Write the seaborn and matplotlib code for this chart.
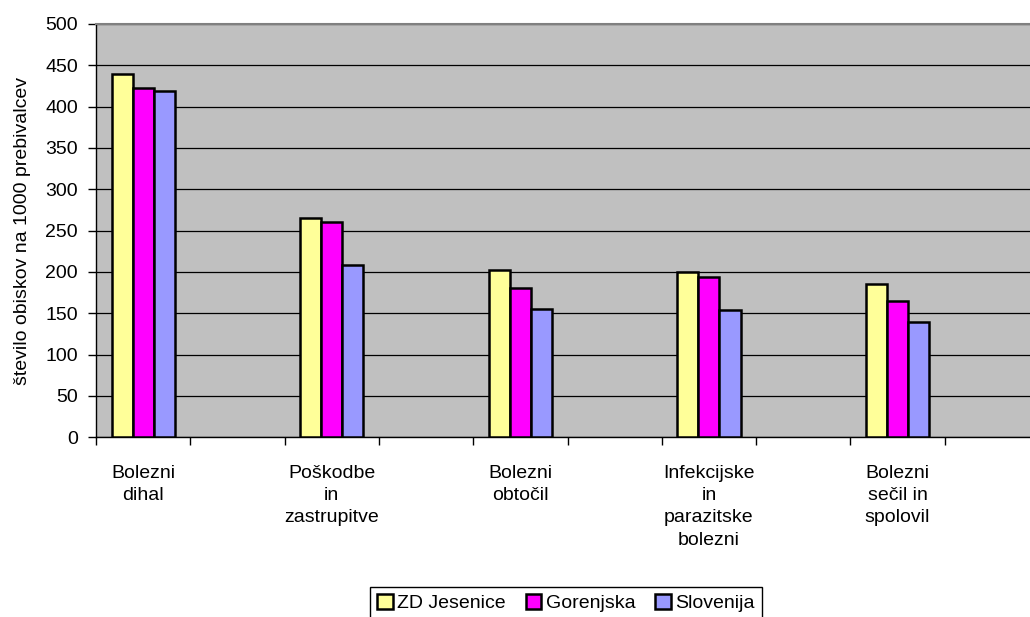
import matplotlib
matplotlib.use("Agg")
import matplotlib.pyplot as plt
import seaborn as sns
import pandas as pd

categories = ["Bolezni\ndihal", "Poškodbe\nin\nzastrupitve", "Bolezni\nobtočil",
              "Infekcijske\nin\nparazitske\nbolezni", "Bolezni\nsečil in\nspolovil"]
series = ["ZD Jesenice", "Gorenjska", "Slovenija"]
zd_jesenice = [439, 265, 203, 200, 186]
gorenjska = [423, 261, 181, 194, 165]
slovenija = [419, 209, 155, 154, 139]
colors = ["#FFFF99", "#FF00FF", "#9999FF"]
y_ticks = [0, 50, 100, 150, 200, 250, 300, 350, 400, 450, 500]
y_label = "število obiskov na 1000 prebivalcev"

rows = []
for s, vals in zip(series, [zd_jesenice, gorenjska, slovenija]):
    for c, v in zip(categories, vals):
        rows.append({"kategorija": c, "serija": s, "vrednost": v})
df = pd.DataFrame(rows)

# alternate empty slots between categories (as in the original chart)
order = []
for i, c in enumerate(categories):
    order.append(c)
    order.append("_empty%d" % i)

sns.set_style("white")
plt.rcParams["font.family"] = ["Liberation Sans", "DejaVu Sans"]
plt.rcParams["text.color"] = "black"
plt.rcParams["axes.labelcolor"] = "black"
plt.rcParams["xtick.color"] = "black"
plt.rcParams["ytick.color"] = "black"

FS = 14

fig = plt.figure(figsize=(10.30, 6.17), dpi=100)
ax = fig.add_axes([96 / 1030, 179.7 / 617, 943 / 1030, 413.3 / 617])
ax.set_facecolor("#C0C0C0")

sns.barplot(data=df, x="kategorija", y="vrednost", hue="serija", order=order,
            hue_order=series, palette=colors, width=0.67, edgecolor="black",
            linewidth=1.8, saturation=1, ax=ax, legend=True, zorder=3)

ax.set_xlim(-0.5, len(order) - 0.5)
ax.set_ylim(0, 500)
ax.set_yticks(y_ticks)
ax.set_yticklabels([str(t) for t in y_ticks], fontsize=FS)
ax.yaxis.grid(True, color="black", linewidth=0.9, zorder=0)
ax.set_axisbelow(True)
ax.tick_params(axis="y", direction="out", length=6, width=1, color="black", pad=7, left=True)

# boundary ticks (no labels) and category labels at the centres
ax.set_xticks([i - 0.5 for i in range(len(order) + 1)])
ax.set_xticklabels([])
ax.set_xticks([2 * i for i in range(len(categories))], minor=True)
ax.set_xticklabels(categories, minor=True, fontsize=FS, linespacing=1.4)
ax.tick_params(axis="x", which="major", direction="out", length=6, width=1, color="black", bottom=True)
ax.tick_params(axis="x", which="minor", length=0, pad=20)

ax.set_xlabel("")
ax.set_ylabel(y_label, fontsize=FS, labelpad=10)

for side in ["left", "bottom"]:
    ax.spines[side].set_color("black")
    ax.spines[side].set_linewidth(1.0)
ax.spines["top"].set_color("#808080")
ax.spines["top"].set_linewidth(1.5)
ax.spines["right"].set_visible(False)

handles, labels = ax.get_legend_handles_labels()
ax.legend_.remove()
leg = fig.legend(handles, labels, loc="center", bbox_to_anchor=(566 / 1030, 1 - 603 / 617),
                 ncol=3, fontsize=FS, frameon=True, fancybox=False, framealpha=1,
                 edgecolor="black", handlelength=0.8, handleheight=0.8,
                 handletextpad=0.25, columnspacing=1.0, borderpad=0.35, borderaxespad=0)
leg.get_frame().set_linewidth(1.0)

fig.savefig("out.png", dpi=100)
